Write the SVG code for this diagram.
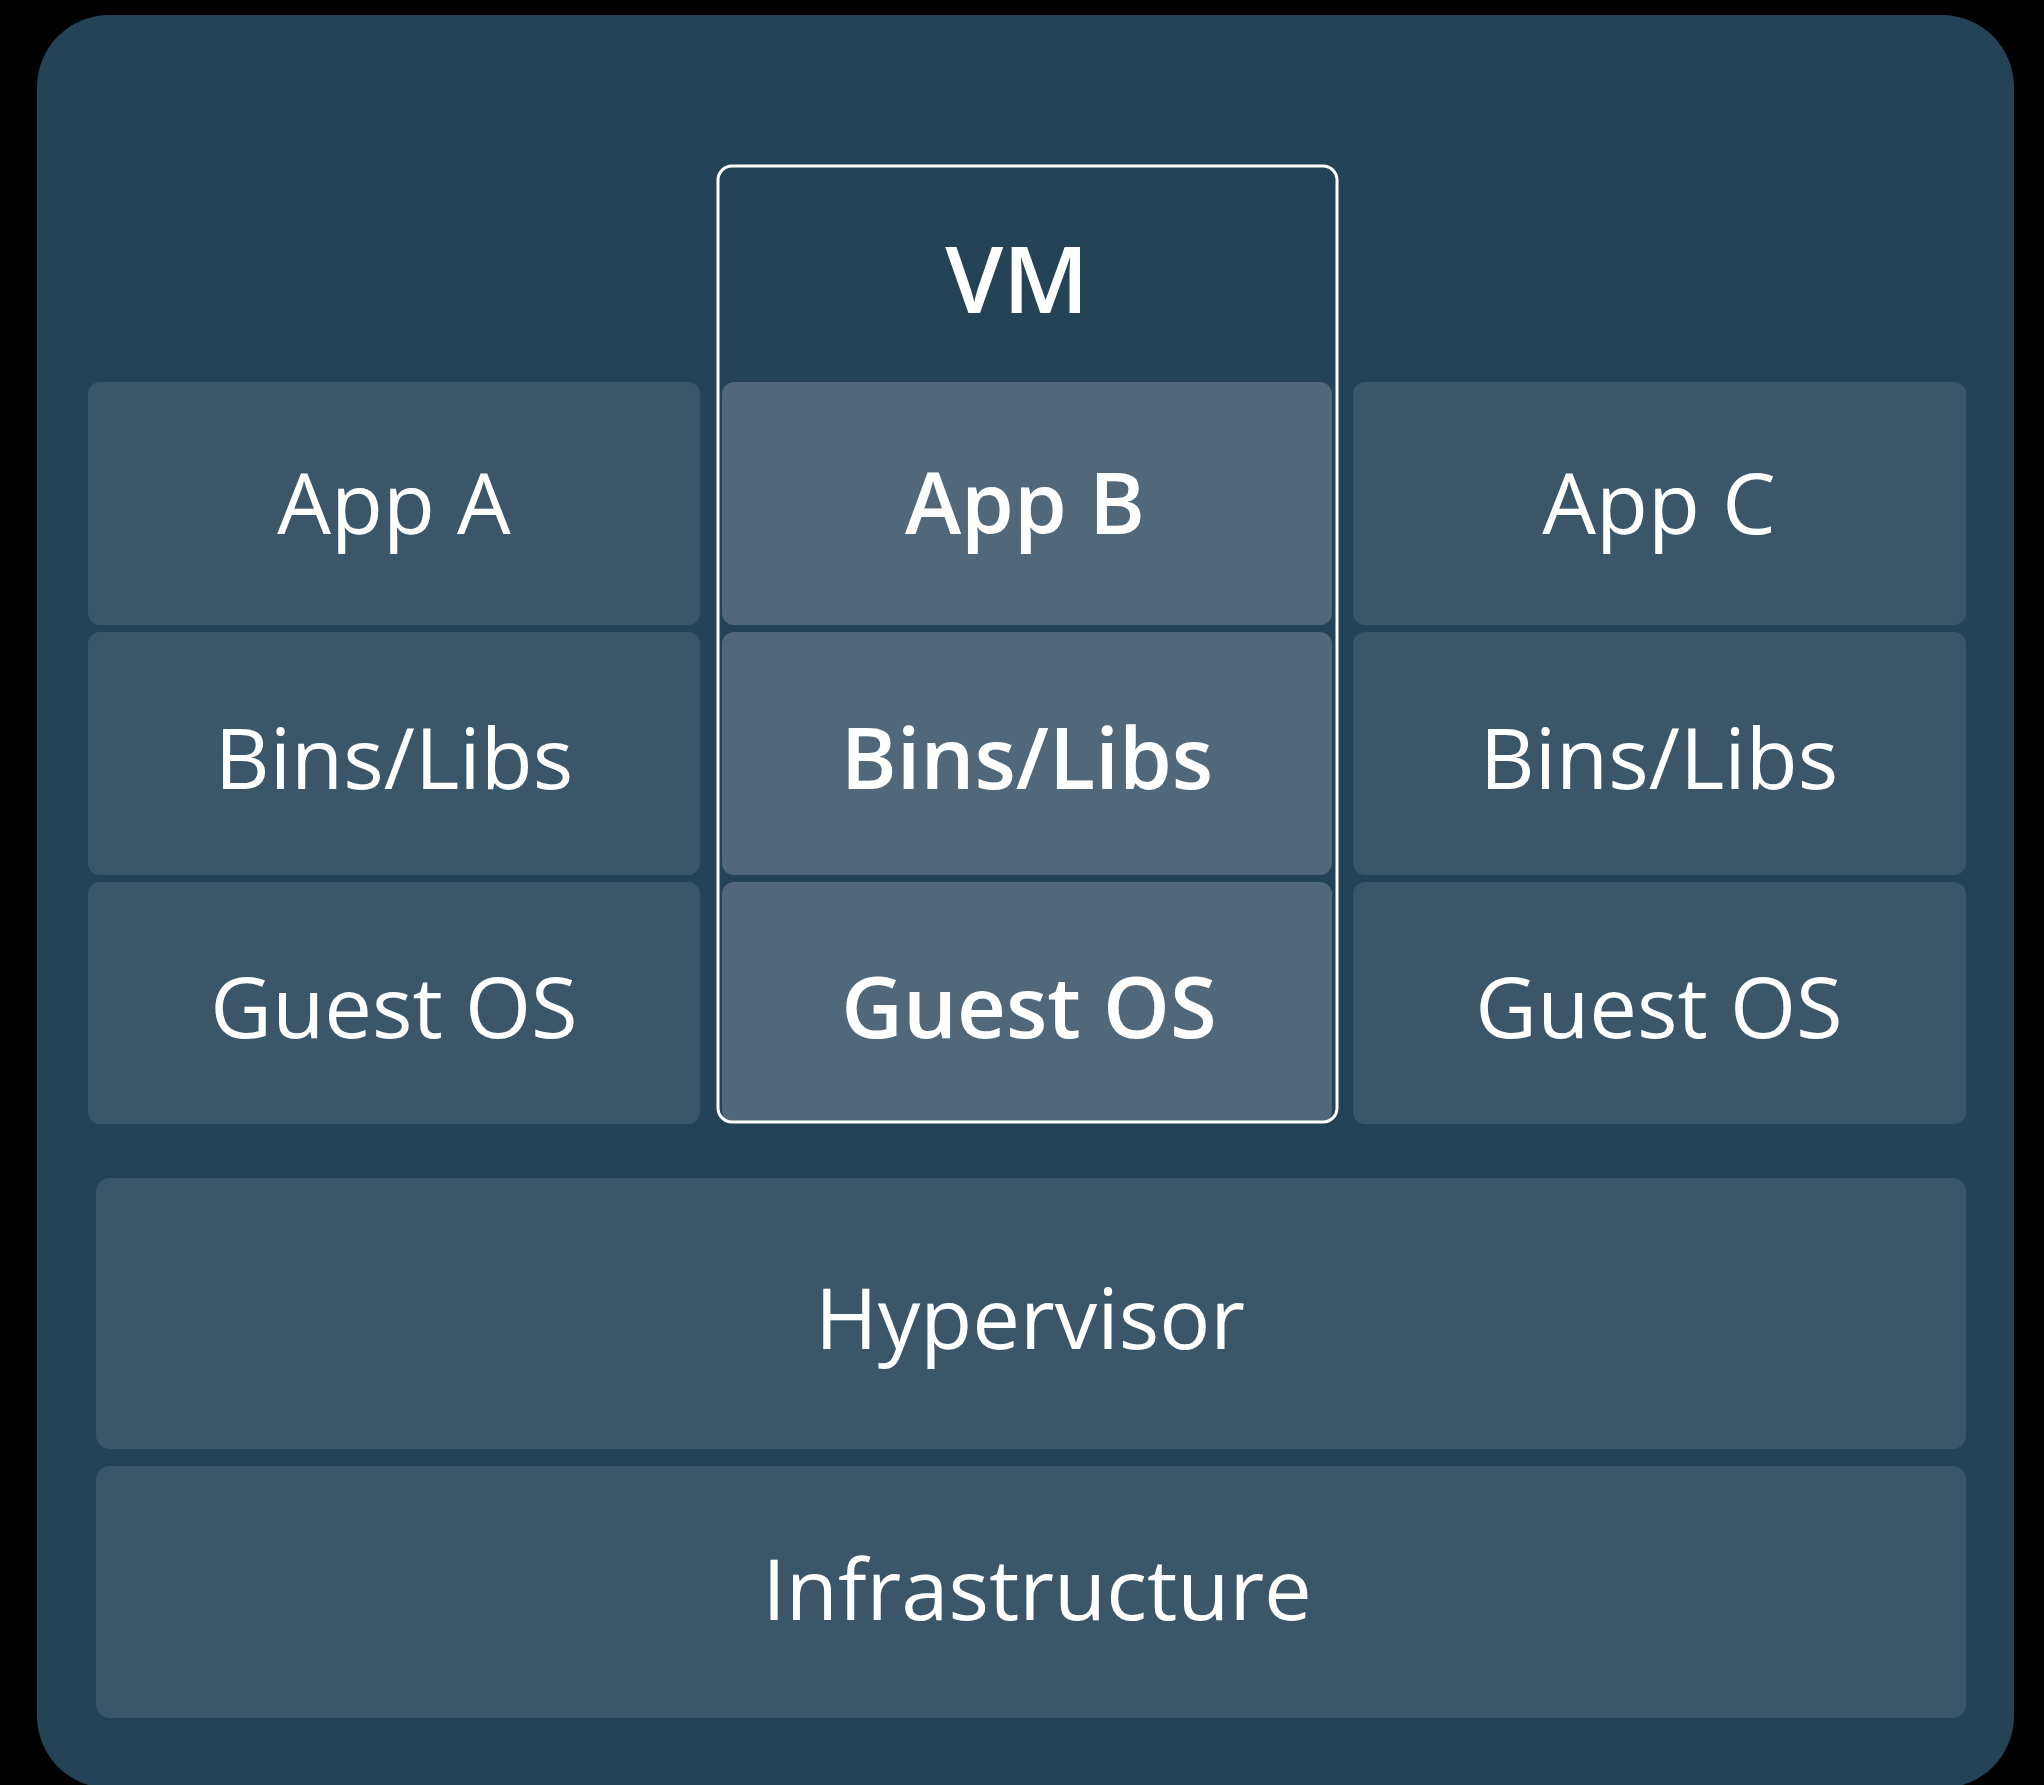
<svg xmlns="http://www.w3.org/2000/svg" width="2044" height="1785" viewBox="0 0 2044 1785">
<style>
.tile{fill:#3b5669}
.vtile{fill:#506879}
.t{font-family:"Open Sans","Noto Sans","DejaVu Sans",sans-serif;font-size:85px;fill:#ffffff;text-anchor:middle}
.b{font-weight:600}
</style>
<rect x="0" y="0" width="2044" height="1785" fill="#000000"/>
<rect id="frame" x="37" y="15" width="1977" height="1773" rx="72" fill="#244357"/>
<g id="app-a"><rect class="tile" x="88" y="382" width="612" height="243" rx="12"/><text class="t" x="394" y="534">App A</text></g>
<g id="bins-a"><rect class="tile" x="88" y="632" width="612" height="243" rx="12"/><text class="t" x="394" y="789">Bins/Libs</text></g>
<g id="guest-a"><rect class="tile" x="88" y="882" width="612" height="242" rx="12"/><text class="t" x="394" y="1038">Guest OS</text></g>
<g id="app-c"><rect class="tile" x="1353" y="382" width="613" height="243" rx="12"/><text class="t" x="1659" y="534">App C</text></g>
<g id="bins-c"><rect class="tile" x="1353" y="632" width="613" height="243" rx="12"/><text class="t" x="1659" y="789">Bins/Libs</text></g>
<g id="guest-c"><rect class="tile" x="1353" y="882" width="613" height="242" rx="12"/><text class="t" x="1659" y="1038">Guest OS</text></g>
<g id="app-b"><rect class="vtile" x="722" y="382" width="610" height="243" rx="12"/><text class="t b" x="1025" y="534">App B</text></g>
<g id="bins-b"><rect class="vtile" x="722" y="632" width="610" height="243" rx="12"/><text class="t b" x="1027" y="789">Bins/Libs</text></g>
<g id="guest-b"><rect class="vtile" x="722" y="882" width="610" height="241" rx="12"/><text class="t b" x="1029" y="1038">Guest OS</text></g>
<g id="vm"><rect x="718" y="166" width="619" height="956" rx="14" fill="none" stroke="#ffffff" stroke-width="3"/><text class="t b" x="1017" y="313" style="font-size:93px">VM</text></g>
<g id="hypervisor"><rect class="tile" x="96" y="1178" width="1870" height="271" rx="14"/><text class="t" x="1030" y="1349">Hypervisor</text></g>
<g id="infrastructure"><rect class="tile" x="96" y="1466" width="1870" height="252" rx="14"/><text class="t" x="1037" y="1620">Infrastructure</text></g>
<g id="connectors"></g>
</svg>
